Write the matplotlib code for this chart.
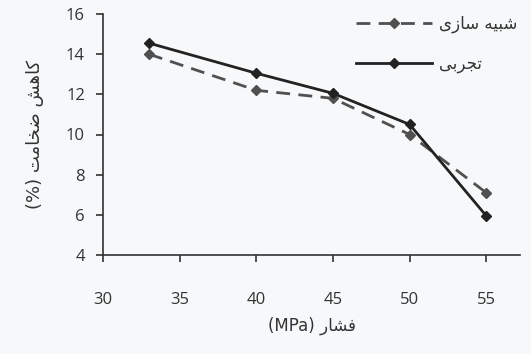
import matplotlib
matplotlib.use('Agg')
import matplotlib.pyplot as plt

plt.rcParams['font.family'] = ['Open Sans', 'DejaVu Sans']

# داده‌ها
pressure = [33, 40, 45, 50, 55]
simulation = [14.0, 12.2, 11.8, 10.0, 7.1]
experiment = [14.55, 13.05, 12.05, 10.5, 5.95]

# متن فارسی به صورت شکل‌یافته (ترتیب دیداری)
lbl_sim = '\uFBFC\uFEAF\uFE8E\uFEB3 \uFEEA\uFBFF\uFE92\uFEB7'      # شبیه سازی
lbl_exp = '\uFBFD\uFE91\uFEAE\uFEA0\uFE97'                          # تجربی
ylab = '(%) \uFE96\uFEE3\uFE8E\uFEA8\uFEBF \uFEB6\uFEEB\uFE8E\uFB90'   # کاهش ضخامت (%)
xlab = '(MPa) \uFEAD\uFE8E\uFEB8\uFED3'                             # فشار (MPa)

bg = '#f6f8fa'
ink = '#333333'

fig = plt.figure(figsize=(5.31, 3.54), dpi=100, facecolor=bg)
ax = fig.add_axes([103/531, 1 - 255/354, (520-103)/531, (255-14)/354])
ax.set_facecolor(bg)

ax.plot(pressure, simulation, linestyle=(0, (5, 3)), color='#505050', lw=2,
        marker='D', ms=5, label=lbl_sim)
ax.plot(pressure, experiment, linestyle='-', color='#222222', lw=2,
        marker='D', ms=5, label=lbl_exp)

ax.set_xlim(30, 57.2)
ax.set_ylim(4, 16)
ax.set_xticks([30, 35, 40, 45, 50, 55])
ax.set_yticks([4, 6, 8, 10, 12, 14, 16])

for s in ['top', 'right']:
    ax.spines[s].set_visible(False)
for s in ['left', 'bottom']:
    ax.spines[s].set_color(ink)
    ax.spines[s].set_linewidth(1.2)

ax.tick_params(direction='out', length=5, width=1.2, colors=ink, labelsize=12)
ax.tick_params(axis='x', pad=22)
ax.tick_params(axis='y', pad=8)

ax.set_xlabel(xlab, fontsize=12, color=ink, family=['DejaVu Sans'], labelpad=6)
ax.set_ylabel(ylab, fontsize=13, color=ink, family=['DejaVu Sans'], labelpad=16)

leg = ax.legend(loc='upper right', bbox_to_anchor=(1.03, 1.06), frameon=False,
                handlelength=4.6, labelspacing=1.3, handletextpad=0.4,
                prop={'family': 'DejaVu Sans', 'size': 12})
for t in leg.get_texts():
    t.set_color(ink)

fig.savefig('out.png', dpi=100, facecolor=bg)
